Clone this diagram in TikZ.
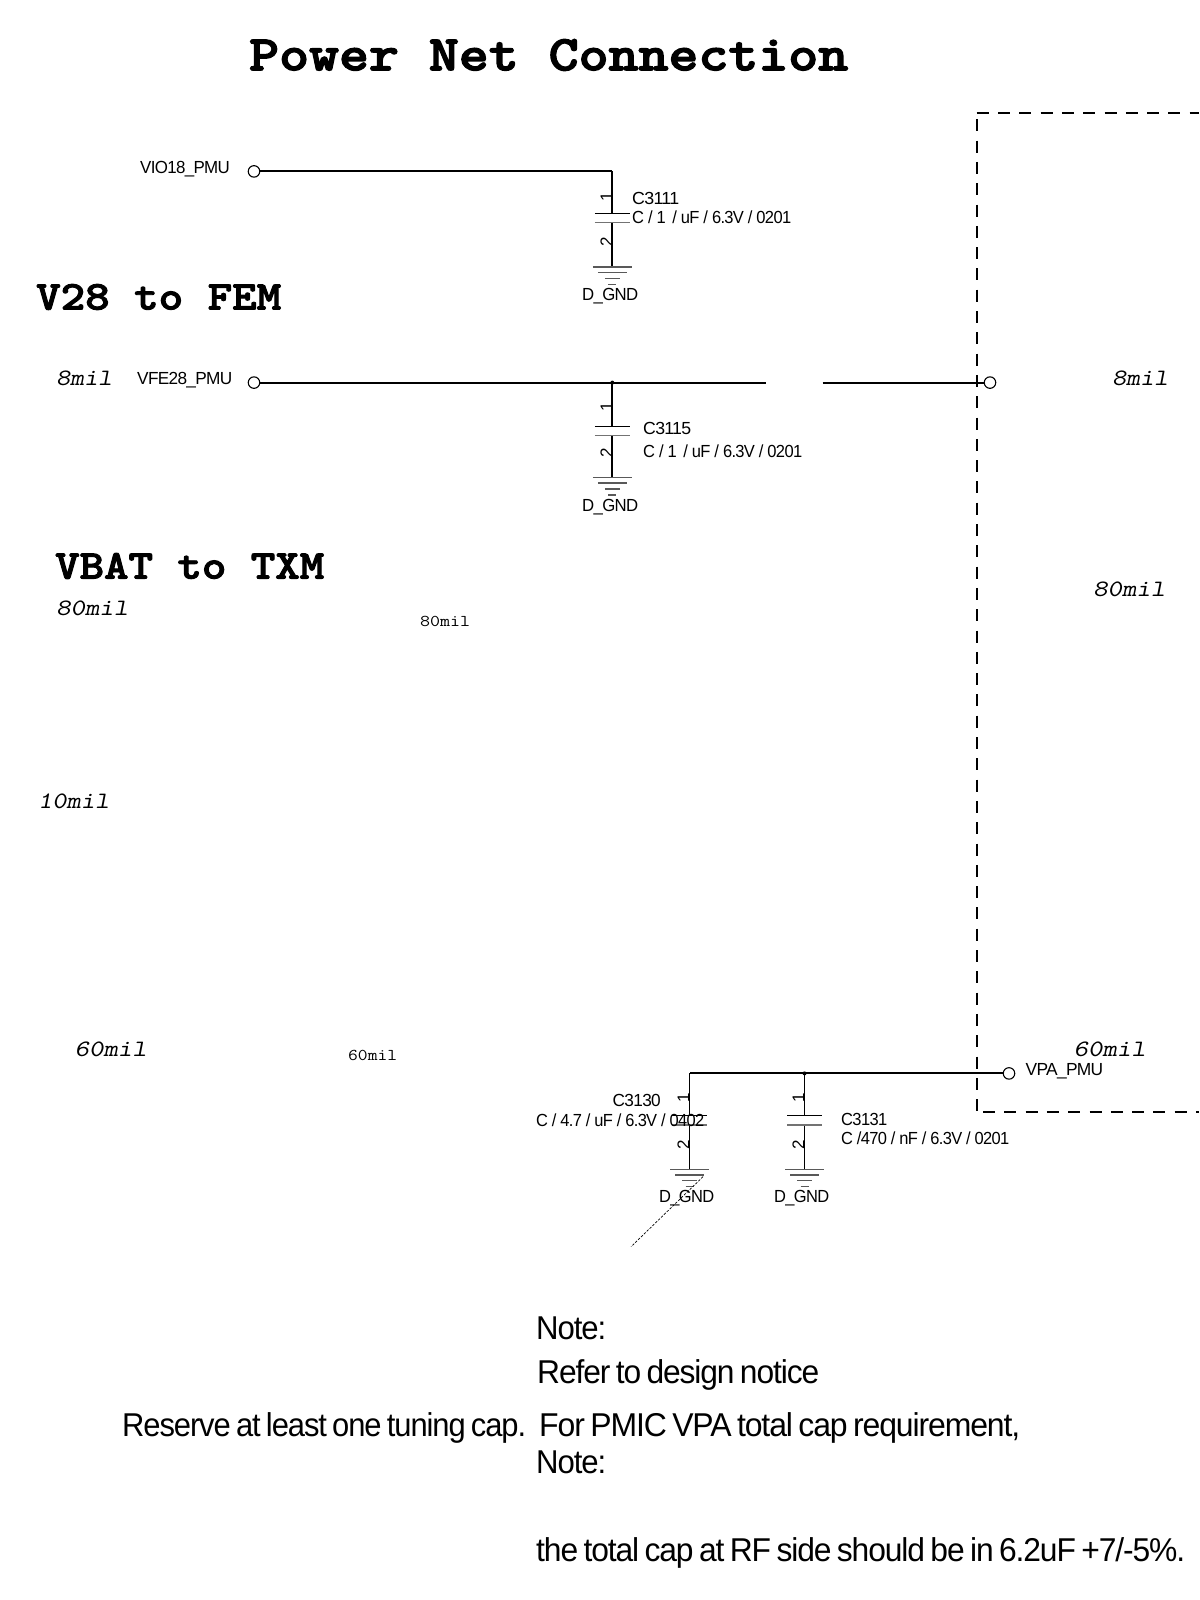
\documentclass[tikz,border=0pt]{standalone}
\usepackage{fontspec}
\setmainfont{Liberation Sans}
\newfontfamily\tightsans[LetterSpace=-4]{Liberation Sans}
\newfontfamily\notefam[LetterSpace=-3.5,WordSpace=0.7]{Liberation Sans}
\newcommand\fitw[2]{\resizebox{#1pt}{\height}{#2}}
\newcommand\heavy[2]{\special{pdf:code q 2 Tr #1 w}#2\special{pdf:code Q}}
\tikzset{
  titletext/.style={anchor=west,inner sep=0pt,font=\ttfamily\bfseries\fontsize{50}{56}\selectfont},
  headtext/.style={anchor=west,inner sep=0pt,font=\ttfamily\bfseries\fontsize{41}{46}\selectfont},
  widthtext/.style={anchor=west,inner sep=0pt,font=\ttfamily\slshape\fontsize{23.5}{26}\selectfont},
  smalltext/.style={anchor=west,inner sep=0pt,font=\ttfamily\fontsize{16.5}{19}\selectfont},
  parttext/.style={anchor=west,inner sep=0pt,yshift=-2pt,font=\tightsans\fontsize{17.5}{20}\selectfont},
  pintext/.style={inner sep=0pt,rotate=90,font=\fontsize{17}{19}\selectfont},
  notetext/.style={anchor=west,inner sep=0pt,yshift=-2.5pt,font=\notefam\fontsize{33}{36}\selectfont},
  wire/.style={line width=2pt,black},
  thinwire/.style={line width=1.8pt,black},
  plate/.style={line width=1.3pt,black},
  plategray/.style={line width=1.6pt,black!55},
  pad/.style={circle,draw=black,line width=1.1pt,fill=white,minimum size=11.5pt,inner sep=0pt},
  dot/.style={circle,fill=black,minimum size=4pt,inner sep=0pt},
  boxline/.style={line width=2pt,black,dash pattern=on 12pt off 9.3pt},
  gndbar/.style={line width=1.4pt,black!65},
}
% capacitor with its ground: #1 prefix, #2 x, #3 top wire coordinate name, #4 y plate1, #5 y plate2, #6 y ground top, #7 half plate width
\newcommand\capgnd[7]{%
  \coordinate (#1pa) at (#2-#7,#4);
  \coordinate (#1pb) at (#2+#7,#4);
  \coordinate (#1pc) at (#2-#7,#5);
  \coordinate (#1pd) at (#2+#7,#5);
  \coordinate (#1t) at (#2,#4);
  \coordinate (#1u) at (#2,#5);
  \coordinate (#1g) at (#2,#6);
  \draw[thinwire] (#3) -- (#1t);
  \draw[thinwire] (#1u) -- (#1g);
  \draw[plate] (#1pa) -- (#1pb);
  \draw[plategray] (#1pc) -- (#1pd);
  \draw[gndbar] ([xshift=-19.5pt]#1g) -- ([xshift=19.5pt]#1g);
  \draw[gndbar] ([xshift=-14.5pt,yshift=-5.6pt]#1g) -- ([xshift=14.5pt,yshift=-5.6pt]#1g);
  \draw[gndbar] ([xshift=-7.5pt,yshift=-11.3pt]#1g) -- ([xshift=7.5pt,yshift=-11.3pt]#1g);
  \draw[gndbar] ([xshift=-4pt,yshift=-17.3pt]#1g) -- ([xshift=4pt,yshift=-17.3pt]#1g);
}
\begin{document}
\begin{tikzpicture}[x=1pt,y=-1pt]
\useasboundingbox (0,0) rectangle (1199,1600);
\fill[white] (0,0) rectangle (1199,1600);

% headings
\node[titletext] (title) at (249,55) {\fitw{599}{\heavy{1.2}{Power Net Connection}}};
\node[headtext] (hfem) at (36,297) {\fitw{245}{\heavy{0.9}{V28 to FEM}}};
\node[headtext] (htxm) at (55,566) {\fitw{269}{\heavy{0.9}{VBAT to TXM}}};

% width annotations
\node[widthtext] (w1) at (56,378) {\fitw{56}{8mil}};
\node[widthtext] (w2) at (1112,378) {\fitw{56}{8mil}};
\node[widthtext] (w3) at (56,608) {\fitw{72}{80mil}};
\node[widthtext] (w4) at (1093,589) {\fitw{72}{80mil}};
\node[widthtext] (w5) at (38,801) {\fitw{71}{10mil}};
\node[widthtext] (w6) at (74.5,1049) {\fitw{72}{60mil}};
\node[widthtext] (w7) at (1073.5,1049) {\fitw{72}{60mil}};
\node[smalltext] (s1) at (420,621) {\fitw{50}{80mil}};
\node[smalltext] (s2) at (348,1055) {\fitw{49}{60mil}};

% dashed block
\coordinate (bta) at (976.7,113.3);
\coordinate (btb) at (1199,113.3);
\coordinate (bla) at (977,119.3);
\coordinate (blb) at (977,1111.7);
\coordinate (bba) at (983,1111.7);
\coordinate (bbb) at (1199,1111.7);
\draw[boxline] (bta) -- (btb);
\draw[boxline] (bla) -- (blb);
\draw[boxline] (bba) -- (bbb);

% VIO18
\node[parttext] (lvio) at (140,167) {\fitw{89.5}{VIO18\_PMU}};
\node[pad] (pvio) at (254,171.4) {};
\coordinate (c1top) at (612.3,171.4);
\draw[wire] (pvio) -- (c1top);
\capgnd{ca}{612.3}{c1top}{213.5}{222.5}{267}{17.5}
\node[pintext] (ca1) at (606.5,197) {1};
\node[pintext] (ca2) at (606.5,242) {2};
\node[parttext] (canm) at (632,196) {\fitw{47}{C3111}};
\node[parttext] (caval) at (632,215) {\fitw{159}{C / 1 \,/ uF / 6.3V / 0201}};
\node[parttext] (cagnd) at (582,294) {\fitw{56}{D\_GND}};

% VFE28
\node[parttext] (lvfe) at (137,378) {\fitw{95}{VFE28\_PMU}};
\node[pad] (pvfe) at (254,382.6) {};
\coordinate (j1) at (612.3,382.6);
\coordinate (brk1) at (766,382.6);
\coordinate (brk2) at (822.5,382.6);
\node[pad] (pfem) at (990,382.6) {};
\draw[wire] (pvfe) -- (brk1);
\draw[wire] (brk2) -- (pfem);
\node[dot] at (j1) {};
\capgnd{cb}{612.3}{j1}{426.5}{435.5}{477.5}{17.5}
\node[pintext] (cb1) at (606.5,407) {1};
\node[pintext] (cb2) at (606.5,453) {2};
\node[parttext] (cbnm) at (643,426.5) {\fitw{48}{C3115}};
\node[parttext] (cbval) at (643,449) {\fitw{159}{C / 1 \,/ uF / 6.3V / 0201}};
\node[parttext] (cbgnd) at (582,505) {\fitw{56}{D\_GND}};

% VPA
\node[pad] (pvpa) at (1009,1073.4) {};
\coordinate (c3top) at (689.5,1073.4);
\coordinate (j2) at (804.5,1073.4);
\draw[wire] (pvpa) -- (c3top);
\node[dot] at (j2) {};
\node[parttext] (lvpa) at (1025.5,1069.5) {\fitw{77.5}{VPA\_PMU}};
\capgnd{cc}{689.5}{c3top}{1115.7}{1125}{1169.3}{17.5}
\capgnd{cd}{804.5}{j2}{1115.7}{1125}{1169.3}{17.5}
\node[pintext] (cc1) at (683.5,1098) {1};
\node[pintext] (cc2) at (683.5,1145) {2};
\node[pintext] (cd1) at (798.5,1098) {1};
\node[pintext] (cd2) at (798.5,1145) {2};
\node[parttext] (ccnm) at (612.5,1098) {\fitw{48}{C3130}};
\node[parttext] (ccval) at (536,1118) {\fitw{168}{C / 4.7 / uF / 6.3V / 0402}};
\node[parttext] (cdnm) at (841,1117.5) {\fitw{46}{C3131}};
\node[parttext] (cdval) at (841,1136) {\fitw{168}{C /470 / nF / 6.3V / 0201}};
\node[parttext] (ccgnd) at (659,1196) {\fitw{55}{D\_GND}};
\node[parttext] (cdgnd) at (774,1196) {\fitw{55}{D\_GND}};

% dashed leader
\coordinate (lda) at (703,1176.7);
\coordinate (ldb) at (631,1246.7);
\draw[line width=0.7pt,black,dash pattern=on 2.5pt off 1.5pt] (lda) -- (ldb);

% notes
\node[notetext] (n1) at (536,1326) {\fitw{70}{Note:}};
\node[notetext] (n2) at (537,1372) {\fitw{282}{Refer to design notice}};
\node[notetext] (n3) at (122,1425) {\fitw{404}{Reserve at least one tuning cap.}};
\node[notetext] (n4) at (539,1425) {\fitw{481}{For PMIC VPA total cap requirement,}};
\node[notetext] (n5) at (536,1460) {\fitw{70}{Note:}};
\node[notetext] (n6) at (536,1550) {\fitw{649}{the total cap at RF side should be in 6.2uF +7/-5\%.}};
\end{tikzpicture}
\end{document}
